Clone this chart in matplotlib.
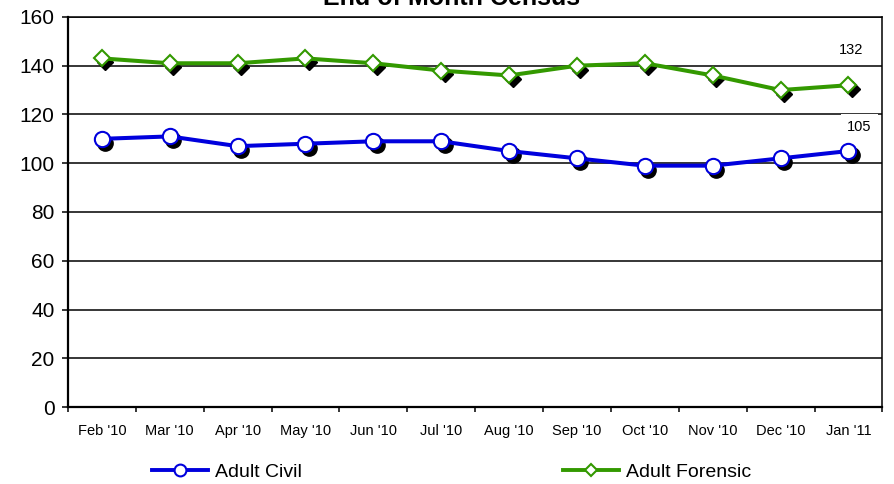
import matplotlib
matplotlib.use("Agg")
import matplotlib.pyplot as plt
import matplotlib.transforms as mtransforms
from matplotlib.lines import Line2D

plt.rcParams['font.family'] = ['Liberation Sans', 'DejaVu Sans']

months = ["Feb '10", "Mar '10", "Apr '10", "May '10", "Jun '10", "Jul '10",
          "Aug '10", "Sep '10", "Oct '10", "Nov '10", "Dec '10", "Jan '11"]
adult_civil = [110, 111, 107, 108, 109, 109, 105, 102, 99, 99, 102, 105]
adult_forensic = [143, 141, 141, 143, 141, 138, 136, 140, 141, 136, 130, 132]

blue = "#0000dd"
green = "#339900"

fig = plt.figure(figsize=(8.94, 4.84), dpi=100)
ax = fig.add_axes([0.076, 0.159, 0.911, 0.806])

x = list(range(len(months)))

# shadows under the markers
shadow = mtransforms.offset_copy(ax.transData, fig=fig, x=2.5, y=-2.8, units='points')
ax.plot(x, adult_civil, 'o', ms=11, color='black', transform=shadow, zorder=3)
ax.plot(x, adult_forensic, 'D', ms=8.5, color='black', transform=shadow, zorder=3)

ax.plot(x, adult_civil, '-', color=blue, lw=2.9, zorder=4)
ax.plot(x, adult_civil, 'o', ms=11, mfc='white', mec=blue, mew=1.5, zorder=5)
ax.plot(x, adult_forensic, '-', color=green, lw=2.9, zorder=4)
ax.plot(x, adult_forensic, 'D', ms=8.5, mfc='white', mec=green, mew=1.5, zorder=5)

# data labels on last point
label_offsets = [(8, 17), (2, 25)]
for series, off in zip((adult_civil, adult_forensic), label_offsets):
    ax.annotate(str(series[-1]), (x[-1], series[-1]), xytext=off,
                textcoords='offset points', ha='center', va='center', fontsize=10.5,
                bbox=dict(boxstyle='square,pad=0.45', fc='white', ec='none'), zorder=2)

ax.set_ylim(0, 160)
ax.set_xlim(-0.5, len(months) - 0.5)
ax.set_yticks(range(0, 161, 20))
ax.yaxis.grid(True, color='black', lw=1.1)
ax.set_axisbelow(True)
for s in ax.spines.values():
    s.set_color('black')
    s.set_linewidth(1.1)
ax.spines['left'].set_linewidth(1.6)
ax.spines['bottom'].set_linewidth(1.6)
ax.tick_params(axis='y', labelsize=15, length=4.5, width=1.1, pad=5, direction='out')

ax.set_xticks(x)
ax.set_xticklabels(months, fontsize=10.5)
ax.tick_params(axis='x', which='major', length=0, pad=12)
ax.set_xticks([i - 0.5 for i in range(len(months) + 1)], minor=True)
ax.tick_params(axis='x', which='minor', length=3.5, width=1.1, direction='out')

fig.text(0.505, 0.9895, "End of Month Census", ha='center', va='baseline',
         fontsize=18, fontweight='bold')

civil_handle = Line2D([], [], color=blue, lw=2.8, marker='o', ms=8.5, mfc='white', mec=blue, mew=1.5)
forensic_handle = Line2D([], [], color=green, lw=2.8, marker='D', ms=6.5, mfc='white', mec=green, mew=1.5)
leg_style = dict(loc='center left', frameon=False, fontsize=14, handlelength=2.9,
                 handletextpad=0.35, borderpad=0, borderaxespad=0)
leg1 = fig.legend([civil_handle], ["Adult Civil"], bbox_to_anchor=(152 / 894, 0.025), **leg_style)
fig.legend([forensic_handle], ["Adult Forensic"], bbox_to_anchor=(563 / 894, 0.025), **leg_style)

fig.savefig("out.png", dpi=100)
